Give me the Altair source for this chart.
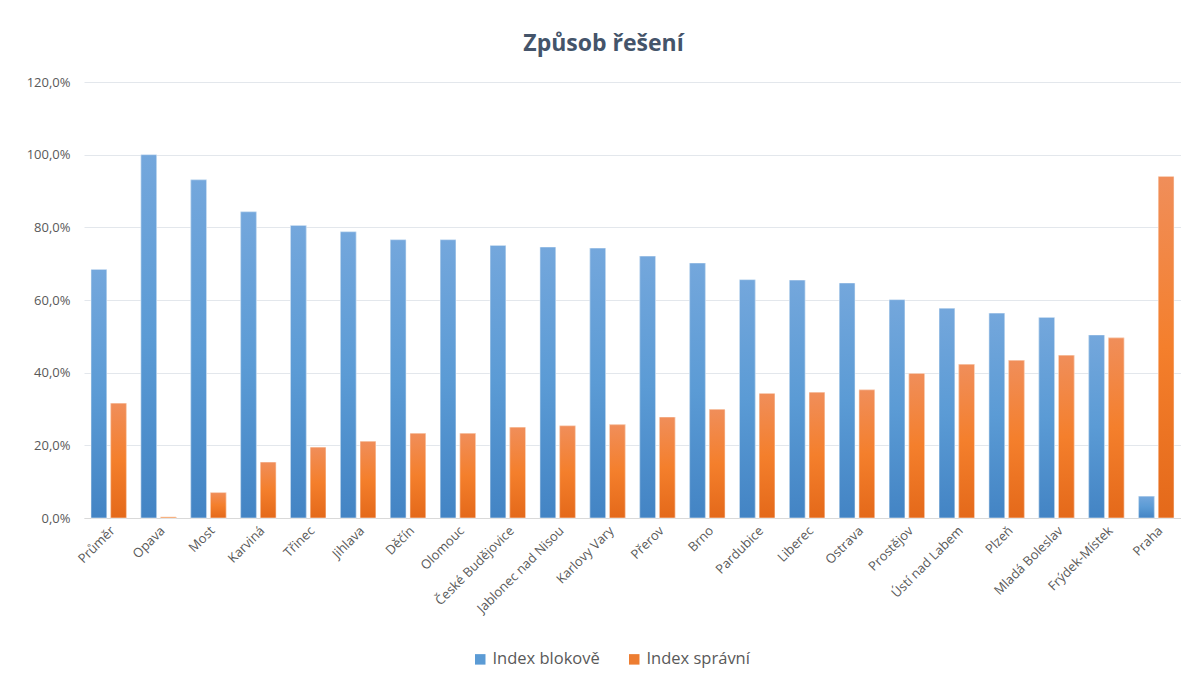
import altair as alt
import pandas as pd

cities = ["Průměr", "Opava", "Most", "Karviná", "Třinec", "Jihlava", "Děčín", "Olomouc",
          "České Budějovice", "Jablonec nad Nisou", "Karlovy Vary", "Přerov", "Brno",
          "Pardubice", "Liberec", "Ostrava", "Prostějov", "Ústí nad Labem", "Plzeň",
          "Mladá Boleslav", "Frýdek-Místek", "Praha"]
index_blokove = [68.4, 100.0, 93.1, 84.3, 80.5, 78.8, 76.6, 76.6, 75.0, 74.6, 74.3, 72.1, 70.2,
                 65.6, 65.5, 64.7, 60.1, 57.7, 56.4, 55.2, 50.4, 6.0]
index_spravni = [31.6, 0.3, 7.0, 15.4, 19.5, 21.1, 23.3, 23.3, 25.0, 25.4, 25.7, 27.8, 29.9,
                 34.3, 34.6, 35.3, 39.8, 42.3, 43.4, 44.8, 49.6, 94.0]
series_names = ["Index blokově", "Index správní"]

rows = []
for c, a, b in zip(cities, index_blokove, index_spravni):
    rows.append({"city": c, "series": series_names[0], "value": a})
    rows.append({"city": c, "series": series_names[1], "value": b})
df = pd.DataFrame(rows)

FONT = "Open Sans"
LABEL_COLOR = "#595959"

x_enc = alt.X("city:N", sort=cities, title=None,
              scale=alt.Scale(paddingInner=0.29, paddingOuter=0.14),
              axis=alt.Axis(labelAngle=-45, labelFontSize=13, labelColor=LABEL_COLOR,
                            labelFont=FONT, ticks=False, domainColor="#d9d9d9",
                            labelPadding=6, labelOverlap=False, grid=False))
xoff = alt.XOffset("series:N", scale=alt.Scale(domain=series_names, paddingInner=0.2))
y_enc = alt.Y("value:Q", title=None,
              scale=alt.Scale(domain=[0, 120], nice=False),
              axis=alt.Axis(values=[0, 20, 40, 60, 80, 100, 120],
                            labelExpr="replace(format(datum.value, '.1f'), '.', ',') + '%'",
                            labelFontSize=13, labelColor=LABEL_COLOR, labelFont=FONT,
                            domain=False, ticks=False, gridColor="#e3e7ec", labelPadding=14))

base = alt.Chart(df).mark_bar().encode(
    x=x_enc, xOffset=xoff, y=y_enc,
    color=alt.Color("series:N", title=None,
                    scale=alt.Scale(domain=series_names, range=["#5b9bd5", "#ed7d31"]),
                    legend=alt.Legend(orient="none", legendX=388, legendY=569,
                                      direction="horizontal", symbolType="square",
                                      symbolSize=110, labelFontSize=16.5, labelFont=FONT,
                                      labelColor=LABEL_COLOR, columnPadding=26,
                                      symbolStrokeWidth=0, labelOffset=4))
)

blue_grad = alt.Gradient(gradient="linear", x1=0, x2=0, y1=0, y2=1,
                         stops=[alt.GradientStop(color="#74a7dc", offset=0),
                                alt.GradientStop(color="#5b9bd5", offset=0.5),
                                alt.GradientStop(color="#4384c4", offset=1)])
orange_grad = alt.Gradient(gradient="linear", x1=0, x2=0, y1=0, y2=1,
                           stops=[alt.GradientStop(color="#f08e5a", offset=0),
                                  alt.GradientStop(color="#f47f2c", offset=0.5),
                                  alt.GradientStop(color="#e4691a", offset=1)])

blue = alt.Chart(df).transform_filter(alt.datum.series == series_names[0]).mark_bar(
    color=blue_grad, stroke="#ffffff", strokeOpacity=0.5, strokeWidth=1
).encode(x=x_enc, xOffset=xoff, y=y_enc)

orange = alt.Chart(df).transform_filter(alt.datum.series == series_names[1]).mark_bar(
    color=orange_grad, stroke="#ffffff", strokeOpacity=0.5, strokeWidth=1
).encode(x=x_enc, xOffset=xoff, y=y_enc)

chart = alt.layer(base, blue, orange).properties(
    width=1097, height=436,
    background="#ffffff",
    title=alt.TitleParams("Způsob řešení", fontSize=23, fontWeight="bold", font=FONT,
                          color="#44546a", anchor="middle", dx=-29, offset=20),
    autosize=alt.AutoSizeParams(type="none"),
    padding={"left": 76, "top": 74, "right": 0, "bottom": 150},
).configure_view(stroke="transparent", strokeOpacity=0).configure_axisY(domain=False).configure_axisX(grid=False)

chart.save("out.html", embed_options={"renderer": "svg", "actions": False})
